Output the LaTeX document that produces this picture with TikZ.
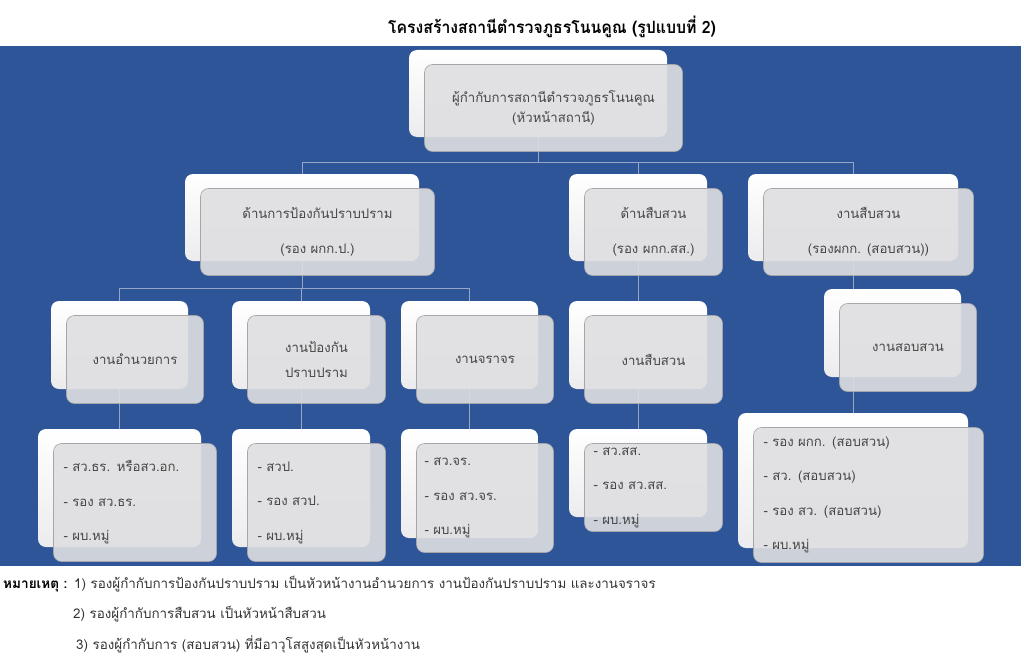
\documentclass[tikz,border=0pt]{standalone}
\usepackage{fontspec}
\setmainfont{Loma}[Script=Thai]
\usetikzlibrary{calc}
\definecolor{bgblue}{RGB}{46,85,151}
\definecolor{gfill}{RGB}{223,223,226}
\definecolor{gline}{RGB}{165,165,170}
\definecolor{cline}{RGB}{150,166,198}
\definecolor{boxtext}{RGB}{70,70,70}
\definecolor{wbot}{RGB}{236,236,238}
\pgfdeclarelayer{bgl}
\pgfdeclarelayer{lines}
\pgfsetlayers{bgl,lines,main}
\tikzset{
  wbox/.style={rounded corners=8pt, top color=white, bottom color=wbot, draw=none, inner sep=0pt},
  gbox/.style={rounded corners=8pt, fill=gfill, fill opacity=0.9, text opacity=1, draw=gline, line width=0.6pt,
     inner xsep=10pt, inner ysep=0pt, text=boxtext, font=\fontsize{13.2}{20}\selectfont, align=center},
  lbox/.style={align=left, font=\fontsize{13.2}{34.5}\selectfont},
  conn/.style={draw=cline, line width=0.8pt},
  notes/.style={anchor=base west, inner sep=0pt, text=black!80, font=\fontsize{13.4}{16}\selectfont},
}
% #1 name, #2 x, #3 y, #4 w, #5 h, #6 options, #7 text
\newcommand\twobox[7]{%
  \node[wbox, minimum width=#4pt, minimum height=#5pt] (#1w) at ({#2+#4/2},{#3+#5/2}) {};
  \node[gbox, minimum width=#4pt, minimum height=#5pt, #6] (#1) at ({#2+#4/2+15.5},{#3+#5/2+14.5}) {#7};
}
\begin{document}
\begin{tikzpicture}[x=1pt,y=-1pt]
\useasboundingbox (0,0) rectangle (1024,661);
\begin{pgfonlayer}{bgl}
  \fill[white] (0,0) rectangle (1024,661);
  \fill[bgblue] (0,46) rectangle (1021,566);
\end{pgfonlayer}

\node[font=\bfseries\fontsize{17}{19}\selectfont] (title) at (552,27) {\scalebox{0.93}[1]{โครงสร้างสถานีตำรวจภูธรโนนคูณ (รูปแบบที่ 2)}};

\twobox{top}{409}{50}{258}{87}{}{ผู้กำกับการสถานีตำรวจภูธรโนนคูณ\\(หัวหน้าสถานี)}
\twobox{la}{185}{174}{234}{87}{font=\fontsize{13.2}{35}\selectfont}{ด้านการป้องกันปราบปราม\\(รอง ผกก.ป.)}
\twobox{lb}{569}{174}{138}{87}{font=\fontsize{13.2}{35}\selectfont}{ด้านสืบสวน\\(รอง ผกก.สส.)}
\twobox{lc}{748}{174}{210}{87}{font=\fontsize{13.2}{35}\selectfont}{งานสืบสวน\\(รองผกก. (สอบสวน))}

\twobox{ma}{51}{301}{137}{88}{}{งานอำนวยการ}
\twobox{mb}{232}{301}{138}{88}{font=\fontsize{13.2}{25}\selectfont}{งานป้องกัน\\ปราบปราม}
\twobox{mc}{401}{301}{137}{88}{}{งานจราจร}
\twobox{md}{569}{301}{138}{88}{}{งานสืบสวน}
\twobox{me}{824}{289}{137}{88}{}{งานสอบสวน}

\twobox{ba}{38}{429}{163}{118}{lbox, text width=143pt}{- สว.ธร. หรือสว.อก.\\- รอง สว.ธร.\\- ผบ.หมู่}
\twobox{bb}{232}{429}{138}{118}{lbox, text width=118pt}{- สวป.\\- รอง สวป.\\- ผบ.หมู่}
\twobox{bc}{401}{429}{137}{109}{lbox, text width=121pt, inner xsep=8pt}{- สว.จร.\\- รอง สว.จร.\\- ผบ.หมู่}
\twobox{bd}{569}{429}{138}{88}{lbox, text width=120pt, inner xsep=9pt}{- สว.สส.\\- รอง สว.สส.\\- ผบ.หมู่}
\twobox{be}{738}{413}{230}{135}{lbox, text width=210pt}{- รอง ผกก. (สอบสวน)\\- สว. (สอบสวน)\\- รอง สว. (สอบสวน)\\- ผบ.หมู่}

\begin{pgfonlayer}{lines}
  \coordinate (bus0) at (0,162);
  \coordinate (bus1) at (0,288);
  \draw[conn] (topw.center) -- (topw.center |- bus0);
  \draw[conn] (law.center) |- (lcw.center |- bus0) -- (lcw.center);
  \draw[conn] (lbw.center) -- (lbw.center |- bus0);
  \draw[conn] (law.center) -- (law.center |- bus1);
  \draw[conn] (maw.center) |- (mcw.center |- bus1) -- (mcw.center);
  \draw[conn] (mbw.center) -- (mbw.center |- bus1);
  \draw[conn] (lbw.center) -- (mdw.center);
  \draw[conn] (lcw.center) -- (bew.center);
  \draw[conn] (maw.center) -- (baw.center);
  \draw[conn] (mbw.center) -- (bbw.center);
  \draw[conn] (mcw.center) -- (bcw.center);
  \draw[conn] (mdw.center) -- (bdw.center);
\end{pgfonlayer}

\node[notes, font=\bfseries\fontsize{13.6}{16}\selectfont, text=black] (nh) at (3,588) {หมายเหตุ :};
\node[notes] (n1) at (74,588) {1) รองผู้กำกับการป้องกันปราบปราม เป็นหัวหน้างานอำนวยการ งานป้องกันปราบปราม และงานจราจร};
\node[notes] (n2) at (73,618) {2) รองผู้กำกับการสืบสวน เป็นหัวหน้าสืบสวน};
\node[notes] (n3) at (76,649) {3) รองผู้กำกับการ (สอบสวน) ที่มีอาวุโสสูงสุดเป็นหัวหน้างาน};
\end{tikzpicture}
\end{document}
